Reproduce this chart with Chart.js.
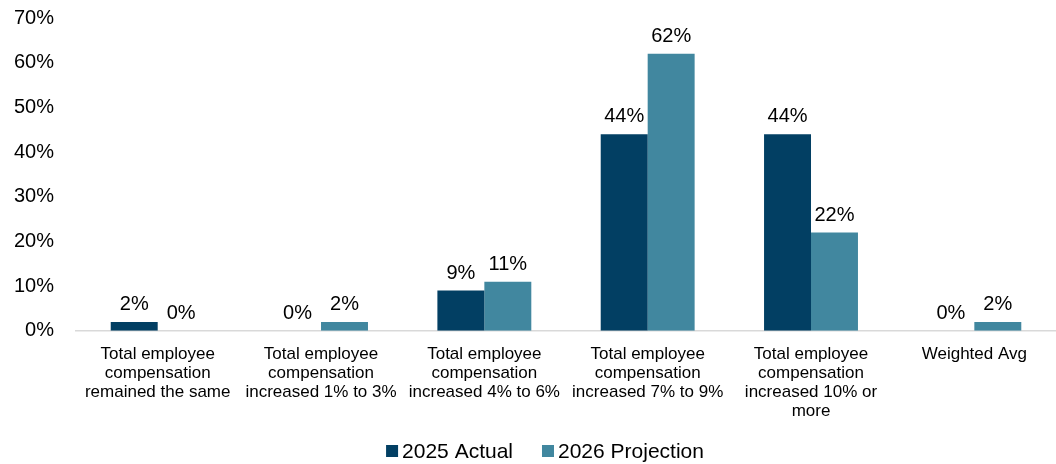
<!DOCTYPE html>
<html>
<head>
<meta charset="utf-8">
<script src="https://cdn.jsdelivr.net/npm/chart.js@4"></script>
<style>
  html, body { margin: 0; padding: 0; background: #ffffff; }
  #wrap { width: 1056px; height: 464px; }
</style>
</head>
<body>
<div id="wrap"><canvas id="c" width="1056" height="464"></canvas></div>
<script>
const categories = [
  ["Total employee", "compensation", "remained the same"],
  ["Total employee", "compensation", "increased 1% to 3%"],
  ["Total employee", "compensation", "increased 4% to 6%"],
  ["Total employee", "compensation", "increased 7% to 9%"],
  ["Total employee", "compensation", "increased 10% or", "more"],
  "Weighted Avg"
];
const actual2025 = [2, 0, 9, 44, 44, 0];
const projection2026 = [0, 2, 11, 62, 22, 2];
const seriesNames = ["2025 Actual", "2026 Projection"];
const seriesColors = ['#023F63', '#41879F'];
const yTicks = [0, 10, 20, 30, 40, 50, 60, 70];

const FONT = "'Liberation Sans', Arial, sans-serif";

// Writes each bar's value above it
const valueLabels = {
  id: 'valueLabels',
  afterDatasetsDraw(chart) {
    const ctx = chart.ctx;
    ctx.save();
    ctx.font = "20px " + FONT;
    ctx.fillStyle = "#000000";
    ctx.textAlign = "center";
    ctx.textBaseline = "alphabetic";
    chart.data.datasets.forEach((ds, i) => {
      const meta = chart.getDatasetMeta(i);
      meta.data.forEach((bar, j) => {
        ctx.fillText(ds.data[j] + "%", bar.x, bar.y - 12);
      });
    });
    ctx.restore();
  }
};

// Compact legend row along the bottom edge: small square, tight gap, then name
const bottomLegend = {
  id: 'bottomLegend',
  afterDraw(chart) {
    const ctx = chart.ctx;
    const box = 12, gapText = 4, gapItem = 29;
    ctx.save();
    ctx.font = "21px " + FONT;
    ctx.textBaseline = "middle";
    ctx.textAlign = "left";
    const items = chart.data.datasets.map(ds => ({
      text: ds.label, color: ds.backgroundColor, w: ctx.measureText(ds.label).width
    }));
    const total = items.reduce((s, it) => s + box + gapText + it.w, 0) + gapItem * (items.length - 1);
    let x = chart.width / 2 + 17 - total / 2;
    const y = chart.height - 13;
    items.forEach(it => {
      ctx.fillStyle = it.color;
      ctx.fillRect(x, y - box / 2, box, box);
      x += box + gapText;
      ctx.fillStyle = '#000000';
      ctx.fillText(it.text, x, y + 1);
      x += it.w + gapItem;
    });
    ctx.restore();
  }
};

new Chart(document.getElementById('c'), {
  type: 'bar',
  data: {
    labels: categories,
    datasets: [
      { label: seriesNames[0], data: actual2025, backgroundColor: seriesColors[0], barPercentage: 1.0, categoryPercentage: 0.575 },
      { label: seriesNames[1], data: projection2026, backgroundColor: seriesColors[1], barPercentage: 1.0, categoryPercentage: 0.575 }
    ]
  },
  options: {
    responsive: false,
    animation: false,
    devicePixelRatio: 1,
    layout: { padding: { left: 0, right: 0, top: 0, bottom: 37 } },
    plugins: {
      legend: { display: false },
      tooltip: { enabled: false }
    },
    scales: {
      x: {
        grid: { display: false },
        border: { display: true, color: '#D9D9D9', width: 1.5 },
        ticks: {
          color: '#000000',
          font: { size: 17, family: FONT, lineHeight: 1.12 },
          maxRotation: 0,
          autoSkip: false,
          padding: 6
        }
      },
      y: {
        min: 0,
        max: 70,
        afterBuildTicks(scale) { scale.ticks = yTicks.map(v => ({ value: v })); },
        afterFit(scale) { scale.paddingTop = 18; },
        grid: { display: false },
        border: { display: false },
        ticks: {
          color: '#000000',
          font: { size: 20, family: FONT, lineHeight: 1.0 },
          padding: 14,
          callback: v => v + '%'
        }
      }
    }
  },
  plugins: [valueLabels, bottomLegend]
});
</script>
</body>
</html>
